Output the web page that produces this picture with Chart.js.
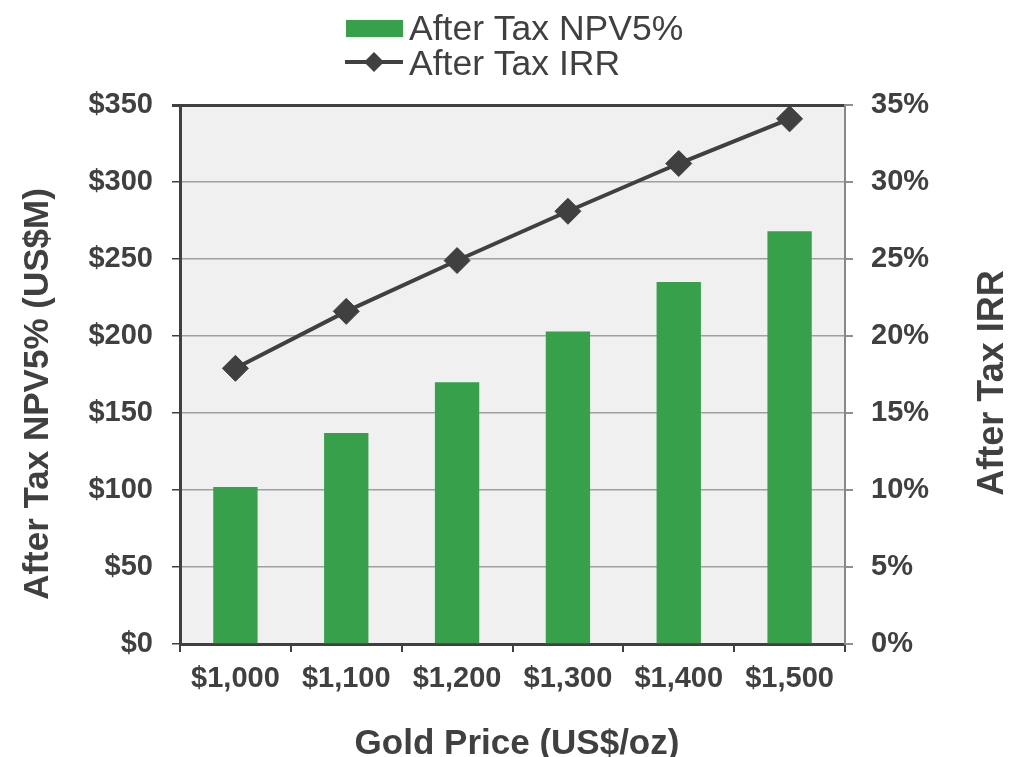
<!DOCTYPE html>
<html>
<head>
<meta charset="utf-8">
<script src="https://cdn.jsdelivr.net/npm/chart.js@4/dist/chart.umd.min.js"></script>
<style>
  html, body { margin: 0; padding: 0; background: #ffffff; }
  #wrap { width: 1009px; height: 757px; position: relative; }
</style>
</head>
<body>
<div id="wrap"><canvas id="c" width="1009" height="757"></canvas></div>
<script>
// ---- data ----
const categories = ['$1,000', '$1,100', '$1,200', '$1,300', '$1,400', '$1,500'];
const npvValues = [102, 137, 170, 203, 235, 268];          // After Tax NPV5% (US$M)
const irrValues = [17.9, 21.6, 24.9, 28.1, 31.2, 34.1];    // After Tax IRR (%)
const npvLabel = 'After Tax NPV5%';
const irrLabel = 'After Tax IRR';
const xTitle = 'Gold Price (US$/oz)';
const yLeftTitle = 'After Tax NPV5% (US$M)';
const yRightTitle = 'After Tax IRR';

const TEXT = '#404040';
const GREEN = '#36A04B';
const FONT = '"Liberation Sans", Arial, sans-serif';

const decor = {
  id: 'decor',
  beforeDraw(chart) {
    const { ctx, chartArea: a } = chart;
    ctx.save();
    ctx.fillStyle = '#F0F0F0';
    ctx.fillRect(a.left, a.top, a.right - a.left, a.bottom - a.top);
    ctx.restore();
  },
  afterDraw(chart) {
    const { ctx } = chart;
    ctx.save();
    // legend
    ctx.fillStyle = GREEN;
    ctx.fillRect(346, 20, 57, 17);
    ctx.strokeStyle = TEXT;
    ctx.lineWidth = 4;
    ctx.beginPath(); ctx.moveTo(345, 62); ctx.lineTo(403, 62); ctx.stroke();
    ctx.fillStyle = TEXT;
    ctx.beginPath();
    ctx.moveTo(374 - 10, 62); ctx.lineTo(374, 52); ctx.lineTo(374 + 10, 62); ctx.lineTo(374, 72);
    ctx.closePath(); ctx.fill();
    ctx.font = '35.5px ' + FONT;
    ctx.textAlign = 'left';
    ctx.textBaseline = 'alphabetic';
    ctx.fillText(npvLabel, 409, 40);
    ctx.fillText(irrLabel, 409, 75);
    // axis titles
    ctx.font = 'bold 35px ' + FONT;
    ctx.textAlign = 'center';
    ctx.fillText(xTitle, 517, 754);
    ctx.save();
    ctx.translate(47.5, 394); ctx.rotate(-Math.PI / 2);
    ctx.fillText(yLeftTitle, 0, 0);
    ctx.restore();
    ctx.font = 'bold 36px ' + FONT;
    ctx.save();
    ctx.translate(1002.5, 383); ctx.rotate(-Math.PI / 2);
    ctx.fillText(yRightTitle, 0, 0);
    ctx.restore();
    ctx.restore();
  }
};

const tickFont = { family: FONT, size: 29, weight: 'bold' };

new Chart(document.getElementById('c'), {
  data: {
    labels: categories,
    datasets: [
      {
        type: 'line',
        label: irrLabel,
        data: irrValues,
        yAxisID: 'y1',
        order: 0,
        borderColor: TEXT,
        borderWidth: 4,
        pointStyle: 'rectRot',
        pointRadius: 13,
        pointBackgroundColor: TEXT,
        pointBorderColor: TEXT,
        pointBorderWidth: 1,
        tension: 0
      },
      {
        type: 'bar',
        label: npvLabel,
        data: npvValues,
        yAxisID: 'y',
        order: 1,
        backgroundColor: GREEN,
        borderWidth: 0,
        barPercentage: 0.4,
        categoryPercentage: 1.0
      }
    ]
  },
  options: {
    responsive: false,
    animation: false,
    devicePixelRatio: 1,
    layout: { padding: { top: 105, left: 0, right: 0, bottom: 0 } },
    plugins: { legend: { display: false }, tooltip: { enabled: false }, title: { display: false } },
    scales: {
      x: {
        type: 'category',
        offset: true,
        grid: { offset: true, drawOnChartArea: false, drawTicks: true, tickLength: 8, tickColor: TEXT, lineWidth: 2 },
        border: { color: TEXT, width: 3 },
        ticks: { color: TEXT, font: tickFont, padding: 10, maxRotation: 0 },
        afterFit(s) { s.height = 113; }
      },
      y: {
        position: 'left',
        min: 0, max: 350,
        ticks: { stepSize: 50, color: TEXT, font: tickFont, padding: 19, callback: v => '$' + v },
        grid: {
          color: c => (c.tick && c.tick.value === 350) ? TEXT : '#A0A0A0',
          lineWidth: c => (c.tick && c.tick.value === 350) ? 3 : 1.5,
          tickColor: TEXT, tickLength: 8, drawTicks: true
        },
        border: { color: TEXT, width: 3 },
        afterFit(s) { s.width = 180; }
      },
      y1: {
        position: 'right',
        min: 0, max: 35,
        ticks: { stepSize: 5, color: TEXT, font: tickFont, padding: 18, callback: v => v + '%' },
        grid: { drawOnChartArea: false, tickColor: '#909090', tickLength: 8, lineWidth: 2 },
        border: { color: '#888888', width: 2 },
        afterFit(s) { s.width = 164; }
      }
    }
  },
  plugins: [decor]
});
</script>
</body>
</html>
